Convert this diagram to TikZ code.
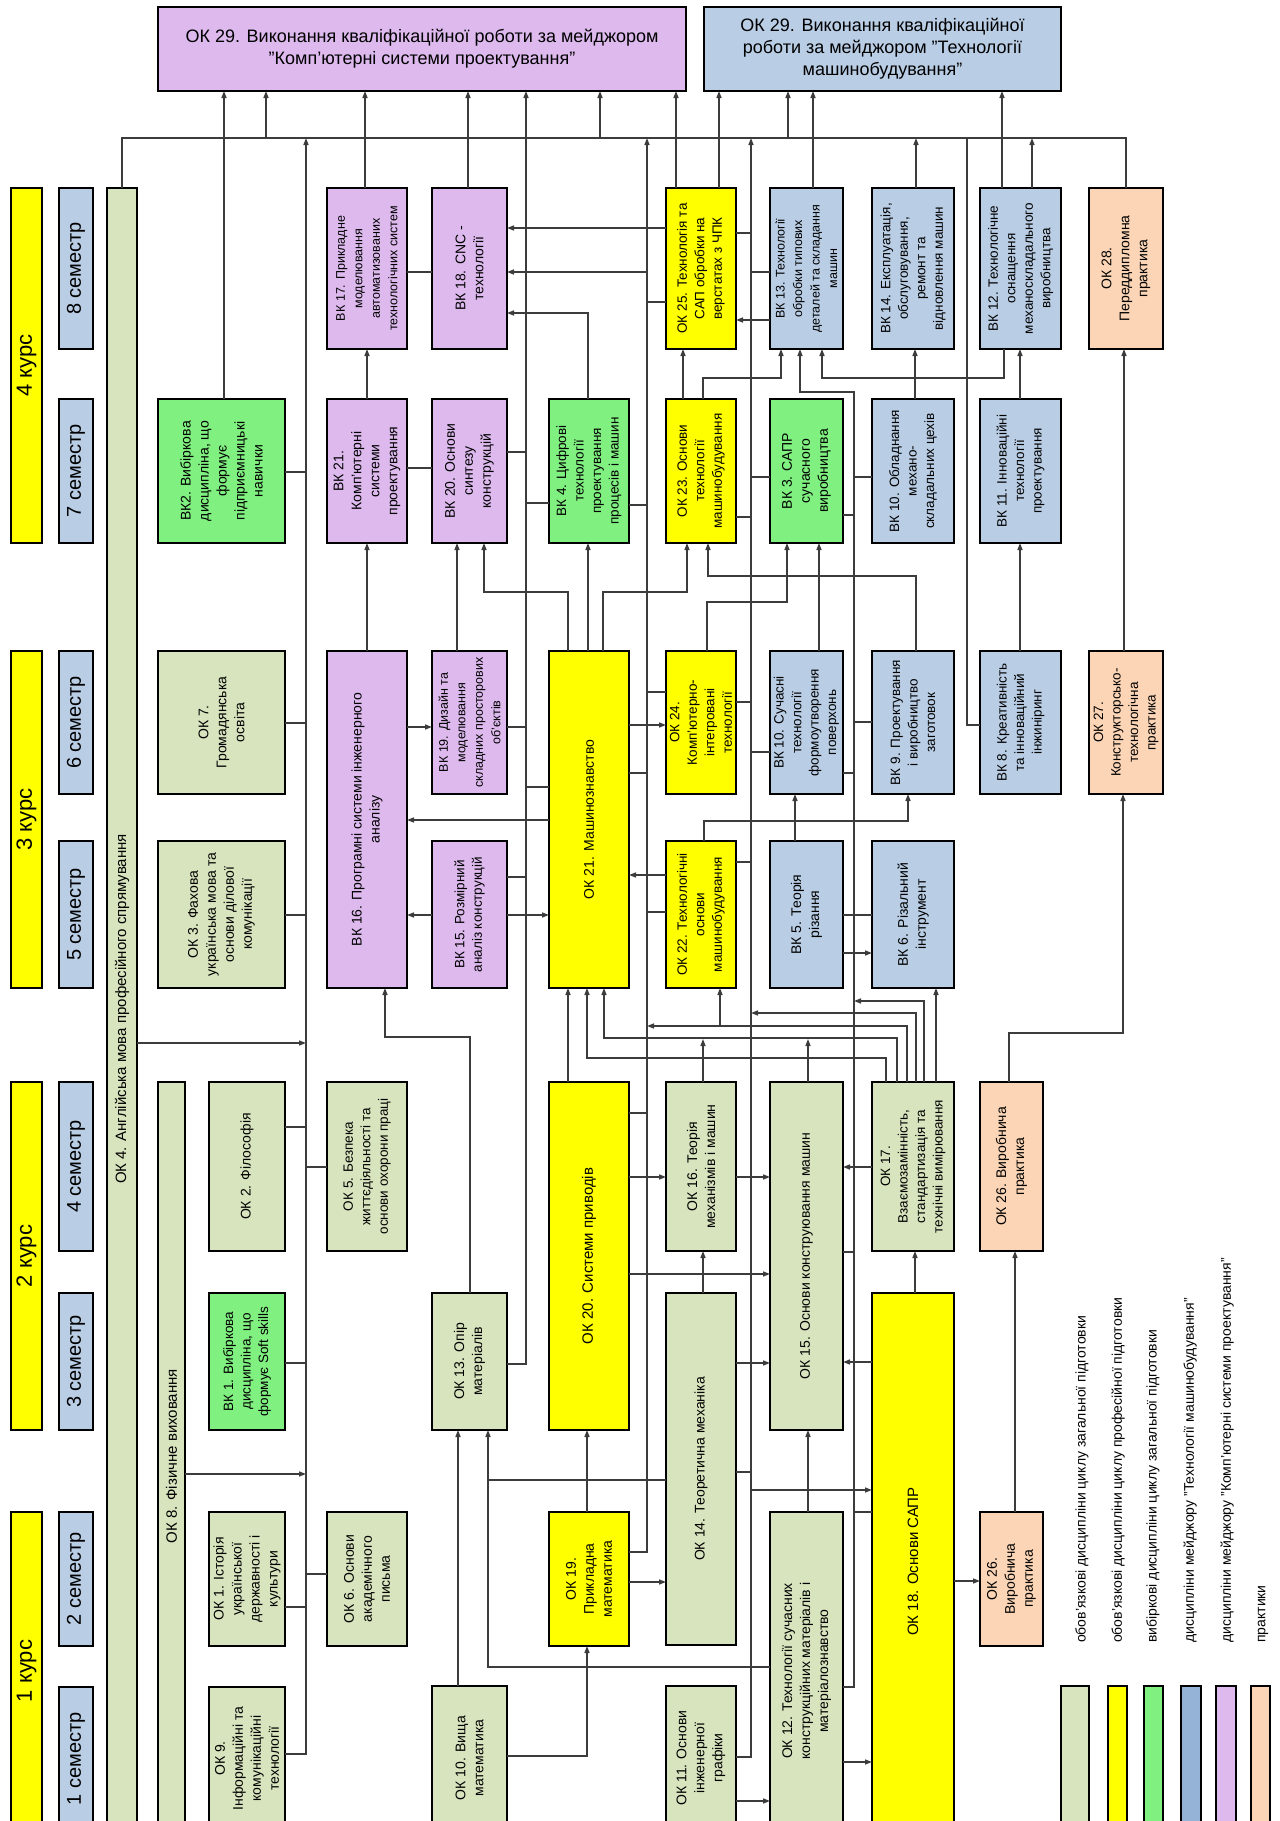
\documentclass[tikz,border=0pt]{standalone}
\usepackage{fontspec}
\setmainfont{Liberation Sans}
\usetikzlibrary{arrows.meta}
\definecolor{cgen}{HTML}{D7E4BD}
\definecolor{cyel}{HTML}{FFFF00}
\definecolor{cgrn}{HTML}{80F080}
\definecolor{cblu}{HTML}{B9CDE5}
\definecolor{cpur}{HTML}{DDB9EE}
\definecolor{corg}{HTML}{FBD5B5}
\definecolor{clgb}{HTML}{95B3D7}
\definecolor{cln}{HTML}{3C3C3C}
\newcommand{\fd}{\fontsize{14}{18}\selectfont}
\newcommand{\kf}{\fontsize{22}{26}\selectfont}
\newcommand{\smf}{\fontsize{20}{24}\selectfont}
\newcommand{\fe}{\fontsize{15}{18}\selectfont}
\newcommand{\fa}{\fontsize{13.5}{17.5}\selectfont}
\newcommand{\fb}{\fontsize{12.5}{17.5}\selectfont}
\newcommand{\mybox}[8][\fd]{%
  \node[box,fill=#3,minimum width={(#6)-(#4)},minimum height={(#7)-(#5)}] (#2) at ({((#4)+(#6))/2},{((#5)+(#7))/2}) {};
  \node[txt,font=#1] at (#2.center) {#8};}
\newcommand{\tk}[3]{\draw[ln] (#1 |- 0,#2) -- (#3,#2);}
\newcommand{\ha}[3]{\draw[arr] (#1 |- 0,#3) -- (#2 |- 0,#3);}
\newcommand{\va}[3]{\draw[arr] (#1 -| #3,0) -- (#2 -| #3,0);}
\begin{document}
\begin{tikzpicture}[x=1pt,y=-1pt,
  box/.style={draw=black,line width=1.8pt,inner sep=0pt,outer sep=0pt},
  txt/.style={rotate=90,align=center,inner sep=0pt},
  ln/.style={draw=cln,line width=1.4pt},
  arr/.style={ln,-{Triangle[length=7pt,width=5pt]}}]
\useasboundingbox (0,0) rectangle (1280,1821);
\fill[white] (0,0) rectangle (1280,1821);
\clip (0,0) rectangle (1280,1821);
% ---- headers
\mybox[\kf]{K4}{cyel}{11}{188}{42}{543}{4 курс}
\mybox[\kf]{K3}{cyel}{11}{651}{42}{988}{3 курс}
\mybox[\kf]{K2}{cyel}{11}{1082}{42}{1430}{2 курс}
\mybox[\kf]{K1}{cyel}{11}{1512}{42}{1830}{1 курс}
\mybox[\smf]{S8}{cblu}{59}{188}{93}{349}{8 семестр}
\mybox[\smf]{S7}{cblu}{59}{399}{93}{543}{7 семестр}
\mybox[\smf]{S6}{cblu}{59}{651}{93}{794}{6 семестр}
\mybox[\smf]{S5}{cblu}{59}{841}{93}{988}{5 семестр}
\mybox[\smf]{S4}{cblu}{59}{1082}{93}{1251}{4 семестр}
\mybox[\smf]{S3}{cblu}{59}{1293}{93}{1430}{3 семестр}
\mybox[\smf]{S2}{cblu}{59}{1512}{93}{1646}{2 семестр}
\mybox[\smf]{S1}{cblu}{59}{1687}{93}{1830}{1 семестр}
\mybox[\fe]{OK4}{cgen}{107}{188}{137}{1830}{ОК 4. Англійська мова професійного спрямування}
\mybox[\fe]{OK8}{cgen}{158}{1082}{185}{1830}{ОК 8. Фізичне виховання}
% ---- column D
\mybox{BK2}{cgrn}{158}{399}{285}{543}{ВК2. Вибіркова\\дисципліна, що\\формує\\підприємницькі\\навички}
\mybox{OK7}{cgen}{158}{651}{285}{794}{ОК 7.\\Громадянська\\освіта}
\mybox{OK3}{cgen}{158}{841}{285}{988}{ОК 3. Фахова\\українська мова та\\основи ділової\\комунікації}
\mybox{OK2}{cgen}{209}{1082}{285}{1251}{ОК 2. Філософія}
\mybox[\fa]{BK1}{cgrn}{209}{1293}{285}{1430}{ВК 1. Вибіркова\\дисципліна, що\\формує Soft skills}
\mybox{OK1}{cgen}{209}{1512}{285}{1646}{ОК 1. Історія\\української\\державності і\\культури}
\mybox{OK9}{cgen}{209}{1687}{285}{1830}{ОК 9.\\Інформаційні та\\комунікаційні\\технології}
% ---- column E
\mybox[\fb]{BK17}{cpur}{327}{188}{407}{349}{ВК 17. Прикладне\\моделювання\\автоматизованих\\технологічних систем}
\mybox{BK21}{cpur}{327}{399}{407}{543}{ВК 21.\\Комп'ютерні\\системи\\проектування}
\mybox{BK16}{cpur}{327}{651}{407}{988}{ВК 16. Програмні системи інженерного\\аналізу}
\mybox[\fa]{OK5}{cgen}{327}{1082}{407}{1251}{ОК 5. Безпека\\життєдіяльності та\\основи охорони праці}
\mybox{OK6}{cgen}{327}{1512}{407}{1646}{ОК 6. Основи\\академічного\\письма}
% ---- column F
\mybox{BK18}{cpur}{432}{188}{507}{349}{ВК 18. CNC -\\технології}
\mybox{BK20}{cpur}{432}{399}{507}{543}{ВК 20. Основи\\синтезу\\конструкцій}
\mybox[\fb]{BK19}{cpur}{432}{651}{507}{794}{ВК 19. Дизайн та\\моделювання\\складних просторових\\об'єктів}
\mybox[\fa]{BK15}{cpur}{432}{841}{507}{988}{ВК 15. Розмірний\\аналіз конструкцій}
\mybox{OK13}{cgen}{432}{1293}{507}{1430}{ОК 13. Опір\\матеріалів}
\mybox{OK10}{cgen}{432}{1686}{507}{1830}{ОК 10. Вища\\математика}
% ---- column G
\mybox[\fa]{BK4}{cgrn}{549}{399}{629}{543}{ВК 4. Цифрові\\технології\\проектування\\процесів і машин}
\mybox{OK21}{cyel}{549}{651}{629}{988}{ОК 21. Машинознавство}
\mybox[\fe]{OK20}{cyel}{549}{1082}{629}{1430}{ОК 20. Системи приводів}
\mybox{OK19}{cyel}{549}{1512}{629}{1646}{ОК 19.\\Прикладна\\математика}
% ---- column H
\mybox[\fa]{OK25}{cyel}{666}{188}{736}{349}{ОК 25. Технологія та\\САП обробки на\\верстатах з ЧПК}
\mybox[\fa]{OK23}{cyel}{666}{399}{736}{543}{ОК 23. Основи\\технології\\машинобудування}
\mybox[\fa]{OK24}{cyel}{666}{651}{736}{794}{ОК 24.\\Комп'ютерно-\\інтегровані\\технології}
\mybox[\fa]{OK22}{cyel}{666}{841}{736}{988}{ОК 22. Технологічні\\основи\\машинобудування}
\mybox{OK16}{cgen}{666}{1082}{736}{1251}{ОК 16. Теорія\\механізмів і машин}
\mybox{OK14}{cgen}{666}{1293}{736}{1645}{ОК 14. Теоретична механіка}
\mybox{OK11}{cgen}{666}{1686}{736}{1830}{ОК 11. Основи\\інженерної\\графіки}
% ---- column I
\mybox[\fb]{BK13}{cblu}{770}{188}{843}{349}{ВК 13. Технології\\обробки типових\\деталей та складання\\машин}
\mybox{BK3}{cgrn}{770}{399}{843}{543}{ВК 3. САПР\\сучасного\\виробництва}
\mybox[\fa]{BK10b}{cblu}{770}{651}{843}{794}{ВК 10. Сучасні\\технології\\формоутворення\\поверхонь}
\mybox{BK5}{cblu}{770}{841}{843}{988}{ВК 5. Теорія\\різання}
\mybox{OK15}{cgen}{770}{1082}{843}{1430}{ОК 15. Основи конструювання машин}
\mybox{OK12}{cgen}{770}{1512}{843}{1830}{ОК 12. Технології сучасних\\конструкційних матеріалів і\\матеріалознавство}
% ---- column J
\mybox[\fa]{BK14}{cblu}{872}{188}{954}{349}{ВК 14. Експлуатація,\\обслуговування,\\ремонт та\\відновлення машин}
\mybox[\fa]{BK10}{cblu}{872}{399}{954}{543}{ВК 10. Обладнання\\механо-\\складальних цехів}
\mybox[\fa]{BK9}{cblu}{872}{651}{954}{794}{ВК 9. Проектування\\і виробництво\\заготовок}
\mybox{BK6}{cblu}{872}{841}{954}{988}{ВК 6. Різальний\\інструмент}
\mybox[\fa]{OK17}{cgen}{872}{1082}{954}{1251}{ОК 17.\\Взаємозамінність,\\стандартизація та\\технічні вимірювання}
\mybox[\fe]{OK18}{cyel}{872}{1293}{954}{1830}{ОК 18. Основи САПР}
% ---- column K, L
\mybox[\fa]{BK12}{cblu}{980}{188}{1061}{349}{ВК 12. Технологічне\\оснащення\\механоскладального\\виробництва}
\mybox[\fa]{BK11}{cblu}{980}{399}{1061}{543}{ВК 11. Інноваційні\\технології\\проектування}
\mybox[\fa]{BK8}{cblu}{980}{651}{1061}{794}{ВК 8. Креативність\\та інноваційний\\інжиніринг}
\mybox{OK26}{corg}{980}{1082}{1043}{1251}{ОК 26. Виробнича\\практика}
\mybox{OK26b}{corg}{980}{1512}{1043}{1646}{ОК 26.\\Виробнича\\практика}
\mybox{OK28}{corg}{1089}{188}{1163}{349}{ОК 28.\\Переддипломна\\практика}
\mybox[\fa]{OK27}{corg}{1089}{651}{1163}{794}{ОК 27.\\Конструкторсько-\\технологічна\\практика}
% ---- OK29 titles
\node[box,fill=cpur,minimum width=528,minimum height=84] (OK29a) at (422,49) {};
\node[align=center,font=\fontsize{18}{22}\selectfont] at (OK29a.center) {ОК 29. Виконання кваліфікаційної роботи за мейджором\\"Комп'ютерні системи проектування"};
\node[box,fill=cblu,minimum width=357,minimum height=84] (OK29b) at (882.5,49) {};
\node[align=center,font=\fontsize{18}{22}\selectfont] at (OK29b.center) {ОК 29. Виконання кваліфікаційної\\роботи за мейджором "Технології\\машинобудування"};
% ---- legend
\node[box,fill=cgen,minimum width=28,minimum height=144] (L1) at (1075,1758) {};
\node[box,fill=cyel,minimum width=19,minimum height=144] (L2) at (1117.5,1758) {};
\node[box,fill=cgrn,minimum width=19,minimum height=144] (L3) at (1153.5,1758) {};
\node[box,fill=clgb,minimum width=20,minimum height=144] (L4) at (1191,1758) {};
\node[box,fill=cpur,minimum width=20,minimum height=144] (L5) at (1226,1758) {};
\node[box,fill=corg,minimum width=19,minimum height=144] (L6) at (1260.5,1758) {};
\begin{scope}[every node/.style={rotate=90,anchor=west,inner sep=0pt,font=\fontsize{14}{16}\selectfont}]
\node (T1) at (1082,1643) {обов'язкові дисципліни циклу загальної підготовки};
\node (T2) at (1118,1643) {обов'язкові дисципліни циклу професійної підготовки};
\node (T3) at (1153,1643) {вибіркові дисципліни циклу загальної підготовки};
\node (T4) at (1190,1643) {дисципліни мейджору "Технології машинобудування"};
\node (T5) at (1227,1643) {дисципліни мейджору "Комп'ютерні системи проектування"};
\node (T6) at (1263,1643) {практики};
\end{scope}
% ---- top bus
\coordinate (bus) at (0,138);
\draw[ln] (OK4.north -| 122,0) -- (122,138) -- (1126,138) -- (OK28.north -| 1126,0);
\va{bus}{OK29a.south}{266}
\va{bus}{OK29a.south}{600}
\va{bus}{OK29b.south}{788}
\va{BK2.north}{OK29a.south}{224}
\va{BK17.north}{OK29a.south}{365}
\va{BK18.north}{OK29a.south}{468}
\va{OK25.north}{OK29a.south}{676}
\va{OK25.north}{OK29b.south}{719}
\va{BK13.north}{OK29b.south}{813}
\va{BK12.north}{OK29b.south}{1002}
\va{BK14.north}{bus}{916}
\va{BK12.north}{bus}{1032}
% ---- vertical collectors
\draw[arr] (OK9.east |- 0,1754) -| (bus -| 306,0);
\tk{BK2.east}{472}{306}
\tk{OK7.east}{723}{306}
\tk{OK3.east}{915}{306}
\tk{OK2.east}{1127}{306}
\tk{OK5.west}{1167}{306}
\tk{BK1.east}{1363}{306}
\tk{OK6.west}{1574}{306}
\tk{OK1.east}{1607}{306}
\draw[arr] (OK4.east |- 0,1043) -- (306,1043);
\draw[arr] (OK8.east |- 0,1474) -- (306,1474);
\draw[arr] (OK13.east |- 0,1364) -| (OK29a.south -| 526,0);
\tk{BK20.east}{452}{526}
\tk{BK4.west}{503}{526}
\tk{BK19.east}{727}{526}
\tk{OK21.west}{787}{526}
\tk{BK15.east}{877}{526}
\draw[arr] (OK19.east |- 0,1552) -| (bus -| 647,0);
\tk{OK25.west}{302}{647}
\tk{BK4.east}{505}{647}
\tk{OK24.west}{692}{647}
\tk{OK21.east}{773}{647}
\tk{OK22.west}{912}{647}
\tk{OK20.east}{1113}{647}
\draw[arr] (OK11.east |- 0,1757) -| (bus -| 751,0);
\tk{OK25.east}{233}{751}
\tk{BK13.west}{272}{751}
\tk{BK3.west}{477}{751}
\tk{OK23.east}{517}{751}
\tk{OK24.east}{702}{751}
\tk{BK10b.west}{752}{751}
\tk{OK22.east}{862}{751}
\tk{OK14.east}{1472}{751}
\draw[arr] (751,1490) -- (OK18.west |- 0,1490);
\draw[arr] (OK12.east |- 0,1687) -| (854,392) -| (BK13.south -| 800,0);
\tk{BK10.west}{477}{854}
\tk{BK3.east}{515}{854}
\tk{BK9.west}{722}{854}
\tk{BK10b.east}{773}{854}
\tk{BK5.east}{915}{854}
\tk{BK6.west}{915}{854}
\tk{OK15.east}{1252}{854}
\tk{OK18.west}{1512}{854}
\draw[ln] (BK8.west |- 0,725) -| (bus -| 967,0);
% ---- columns E-G
\va{BK21.north}{BK17.south}{367}
\va{BK16.north}{BK21.south}{367}
\draw[ln] (BK17.east |- 0,272) -- (BK18.west |- 0,272);
\draw[ln] (BK21.east |- 0,468) -- (BK20.west |- 0,468);
\ha{BK16.east}{BK19.west}{727}
\ha{OK21.west}{BK16.east}{820}
\ha{BK15.west}{BK16.east}{915}
\ha{BK15.east}{OK21.west}{915}
\draw[arr] (OK13.north -| 470,0) |- (385,1037) -- (BK16.south -| 385,0);
\va{BK19.north}{BK20.south}{457}
\draw[arr] (OK21.north -| 568,0) |- (484,592) -- (BK20.south -| 484,0);
\va{OK21.north}{BK4.south}{588}
\draw[arr] (OK21.north -| 603,0) |- (687,592) -- (OK23.south -| 687,0);
\draw[arr] (BK4.north -| 588,0) |- (BK18.east |- 0,313);
\ha{OK25.west}{BK18.east}{228}
\draw[arr] (647,272) -- (BK18.east |- 0,272);
\ha{OK21.east}{OK24.west}{725}
\ha{OK22.west}{OK21.east}{875}
\ha{OK20.east}{OK16.west}{1177}
\ha{OK20.east}{OK15.west}{1274}
\ha{OK19.east}{OK14.west}{1582}
\va{OK20.north}{OK21.south}{568}
\va{OK19.north}{OK20.south}{587}
\draw[arr] (OK10.east |- 0,1756) -| (OK19.south -| 587,0);
\va{OK10.north}{OK13.south}{458}
\draw[arr] (OK12.west |- 0,1667) -| (OK13.south -| 488,0);
\draw[ln] (OK14.west |- 0,1480) -- (488,1480);
% ---- columns H-L
\va{OK23.north}{OK25.south}{683}
\draw[arr] (OK23.north -| 703,0) |- (781,378) -- (BK13.south -| 781,0);
\ha{BK13.west}{OK25.east}{320}
\ha{OK11.east}{OK12.west}{1801}
\va{OK12.north}{OK15.south}{808}
\ha{OK14.east}{OK15.west}{1363}
\ha{OK16.east}{OK15.west}{1177}
\va{OK14.north}{OK16.south}{703}
\draw[arr] (OK16.north -| 703,0) -- (703,1039);
\draw[arr] (OK15.north -| 808,0) -- (808,1039);
\draw[arr] (OK24.north -| 707,0) |- (787,602) -- (BK3.south -| 787,0);
\draw[arr] (BK9.north -| 916,0) |- (708,576) -- (OK23.south -| 708,0);
\va{BK10b.north}{BK3.south}{819}
\va{BK5.north}{BK10b.south}{795}
\draw[arr] (OK22.north -| 704,0) |- (908,821) -- (BK9.south -| 908,0);
\draw[arr] (OK17.north -| 886,0) |- (587,1058) -- (OK21.south -| 587,0);
\draw[arr] (OK17.north -| 897,0) |- (604,1038) -- (OK21.south -| 604,0);
\draw[arr] (OK17.north -| 907,0) |- (647,1026);
\draw[arr] (720,1026) -- (OK22.south -| 720,0);
\draw[arr] (OK17.north -| 916,0) |- (751,1013);
\draw[arr] (OK17.north -| 924,0) |- (854,1001);
\va{OK17.north}{BK6.south}{936}
\ha{OK17.west}{OK15.east}{1167}
\ha{OK18.west}{OK15.east}{1362}
\ha{OK12.east}{OK18.west}{1762}
\va{OK18.north}{OK17.south}{915}
\ha{OK18.east}{OK26b.west}{1581}
\ha{BK5.east}{BK6.west}{953}
\draw[arr] (BK12.south -| 1004,0) |- (822,378) -- (BK13.south -| 822,0);
\va{BK10.north}{BK14.south}{915}
\va{BK11.north}{BK12.south}{1020}
\va{BK8.north}{BK11.south}{1020}
\va{OK26b.north}{OK26.south}{1015}
\draw[arr] (OK26.north -| 1009,0) |- (1123,1033) -- (OK27.south -| 1123,0);
\va{OK27.north}{OK28.south}{1124}
\end{tikzpicture}
\end{document}
